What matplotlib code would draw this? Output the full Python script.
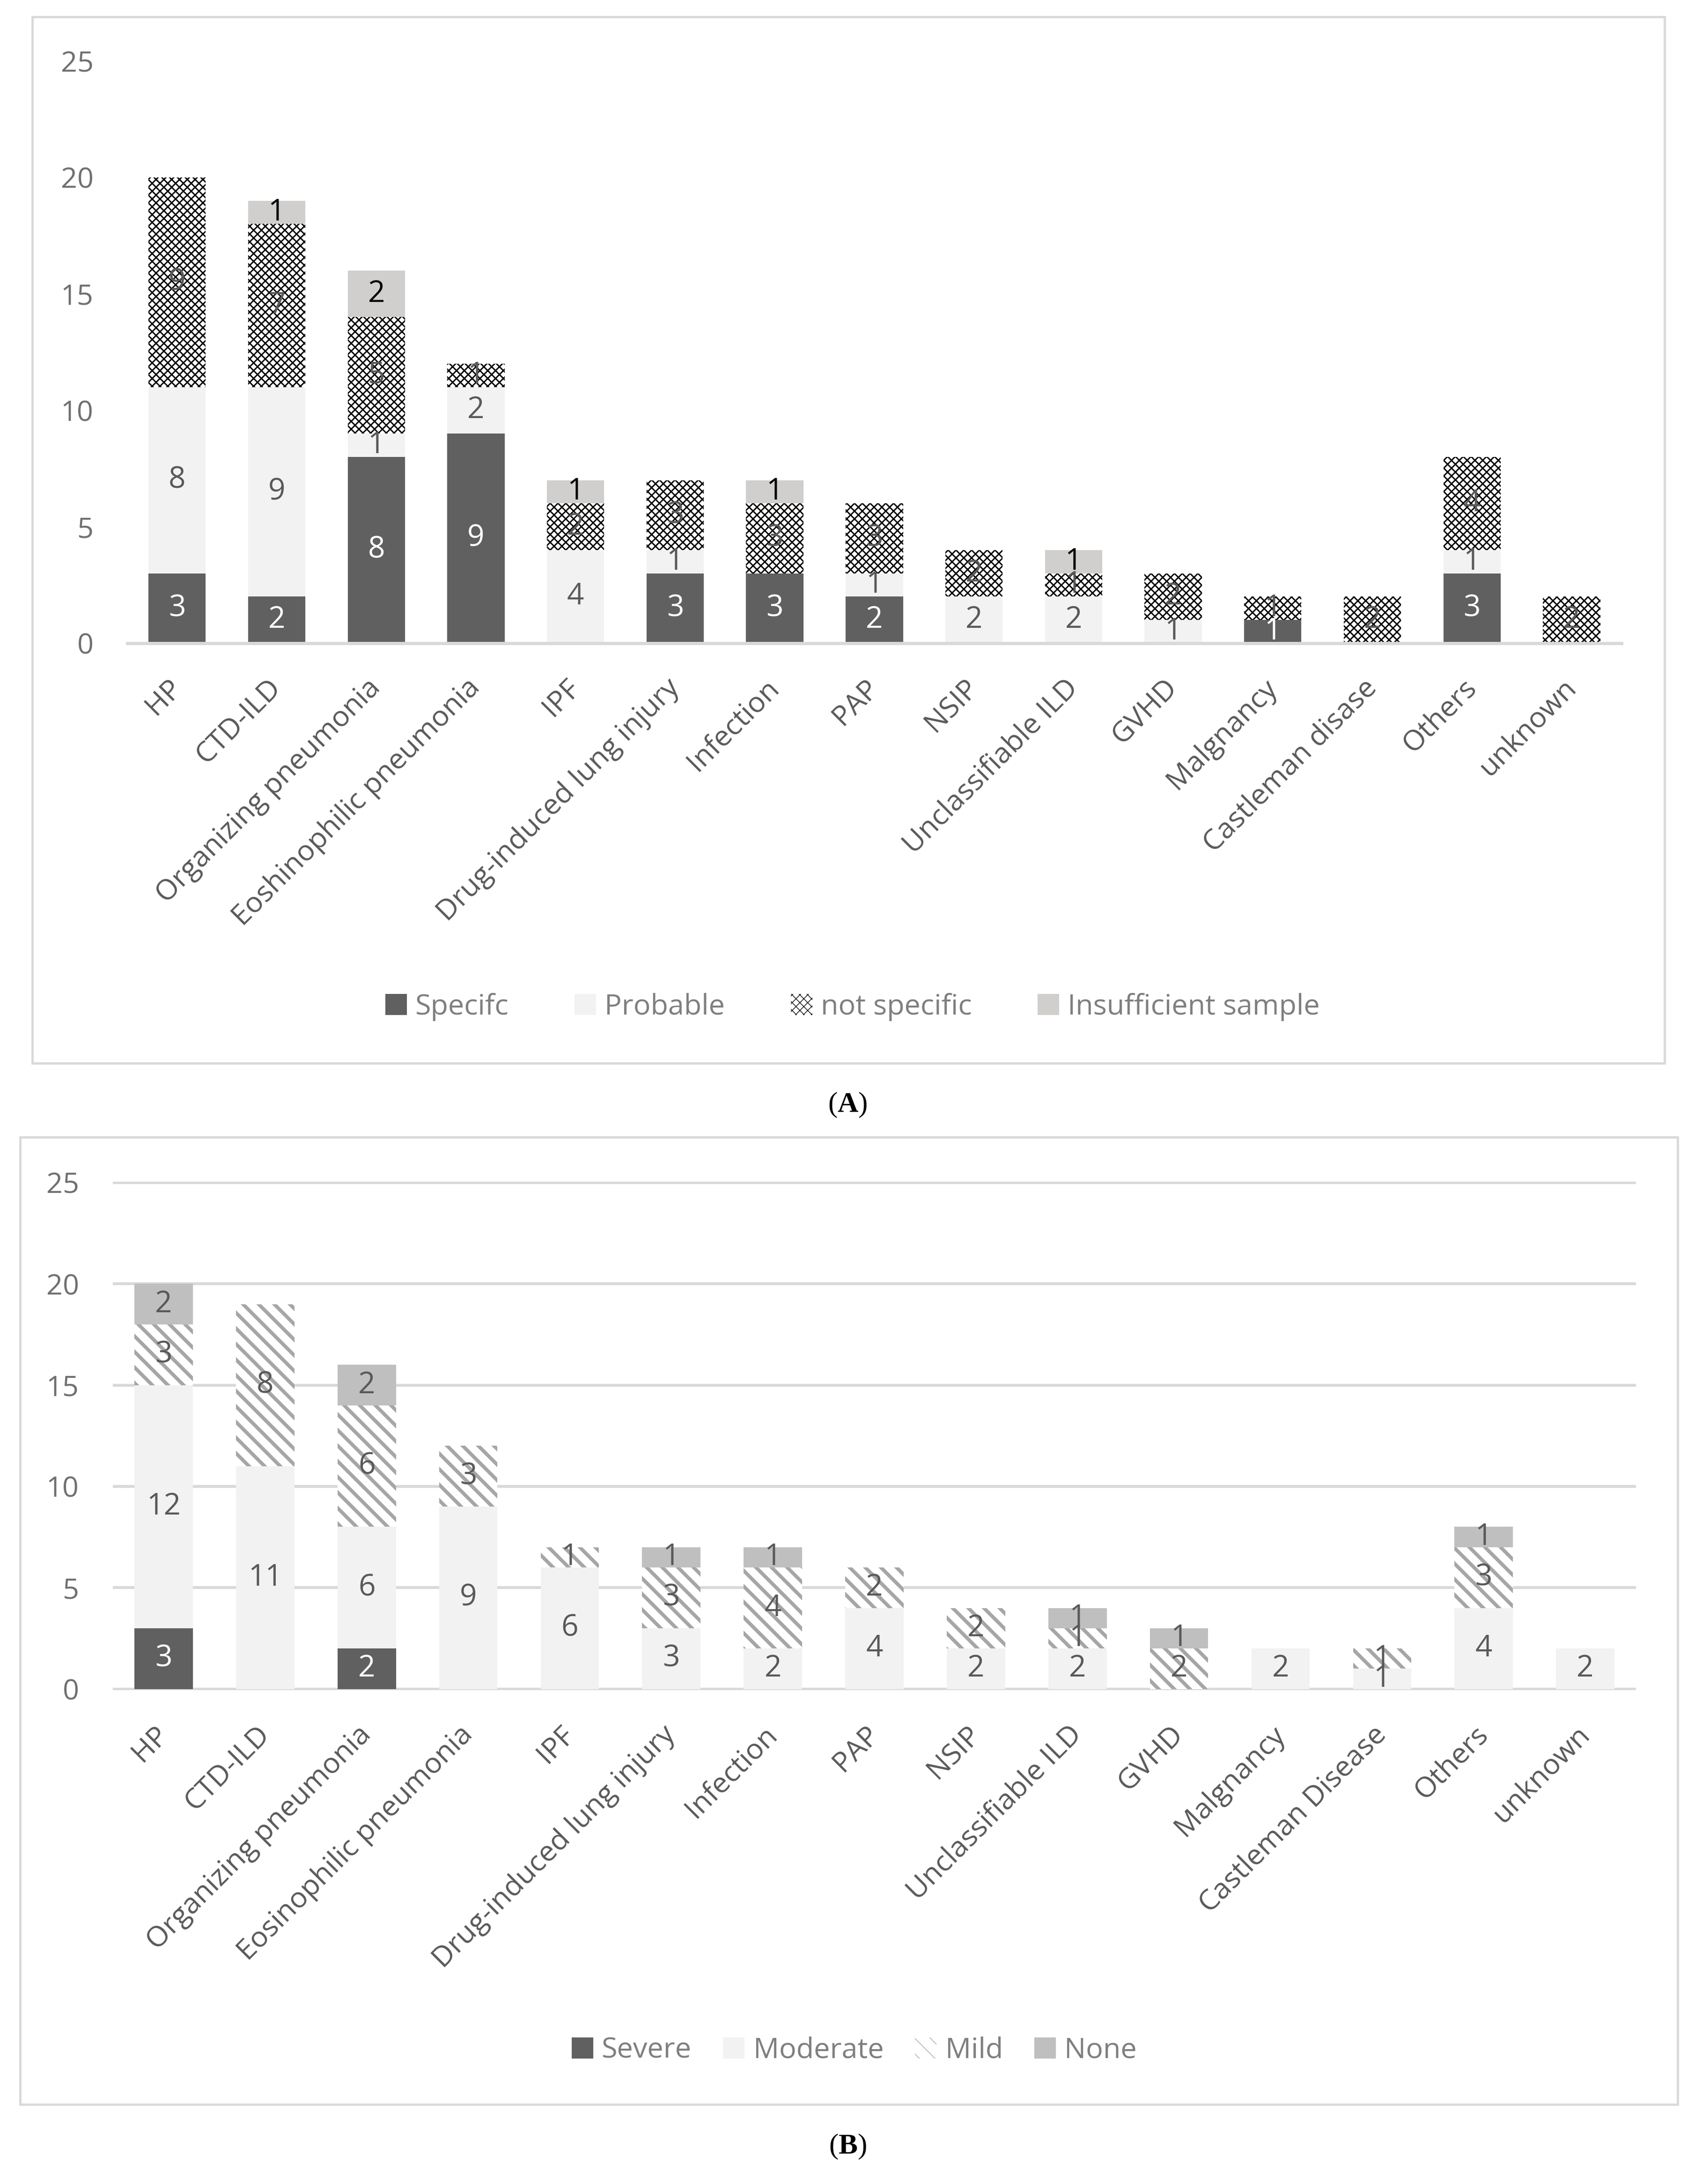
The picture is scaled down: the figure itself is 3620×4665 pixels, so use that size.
import matplotlib
matplotlib.use('Agg')
import matplotlib.pyplot as plt
from matplotlib.patches import Rectangle

plt.rcParams['font.family'] = ['Open Sans', 'DejaVu Sans']
plt.rcParams['mathtext.fontset'] = 'custom'
plt.rcParams['mathtext.rm'] = 'Liberation Serif'
plt.rcParams['mathtext.bf'] = 'Liberation Serif:bold'

# panel A: diagnostic value
categorias_a = ['HP', 'CTD-ILD', 'Organizing pneumonia', 'Eoshinophilic pneumonia', 'IPF',
                'Drug-induced lung injury', 'Infection', 'PAP', 'NSIP', 'Unclassifiable ILD',
                'GVHD', 'Malgnancy', 'Castleman disase', 'Others', 'unknown']
specific = [3, 2, 8, 9, 0, 3, 3, 2, 0, 0, 0, 1, 0, 3, 0]
probable = [8, 9, 1, 2, 4, 1, 0, 1, 2, 2, 1, 0, 0, 1, 0]
not_specific = [9, 7, 5, 1, 2, 3, 3, 3, 2, 1, 2, 1, 2, 4, 2]
insufficient = [0, 1, 2, 0, 1, 0, 1, 0, 0, 1, 0, 0, 0, 0, 0]

# panel B: severity
categorias_b = ['HP', 'CTD-ILD', 'Organizing pneumonia', 'Eosinophilic pneumonia', 'IPF',
                'Drug-induced lung injury', 'Infection', 'PAP', 'NSIP', 'Unclassifiable ILD',
                'GVHD', 'Malgnancy', 'Castleman Disease', 'Others', 'unknown']
severe = [3, 0, 2, 0, 0, 0, 0, 0, 0, 0, 0, 0, 0, 0, 0]
moderate = [12, 11, 6, 9, 6, 3, 2, 4, 2, 2, 0, 2, 1, 4, 2]
mild = [3, 8, 6, 3, 1, 3, 4, 2, 2, 1, 2, 0, 1, 3, 0]
none = [2, 0, 2, 0, 0, 1, 1, 0, 0, 1, 1, 0, 0, 1, 0]

cinza_texto = '#595959'
cinza_linha = '#d9d9d9'
fs = 44

fig = plt.figure(figsize=(36.2, 46.65), dpi=100)

# caixas em volta dos graficos
fig.patches.append(Rectangle((0.0190, 0.5132), 0.9630, 0.4790, transform=fig.transFigure,
                             fill=False, edgecolor=cinza_linha, linewidth=3.5))
fig.patches.append(Rectangle((0.0118, 0.0365), 0.9780, 0.4428, transform=fig.transFigure,
                             fill=False, edgecolor=cinza_linha, linewidth=3.5))


def barra(ax, x, vals, bottom, cor, hatch=None, hcor=None, hlw=1.0, label=None, txt='#595959'):
    with plt.rc_context({'hatch.linewidth': hlw}):
        if hatch:
            c = ax.bar(x, vals, 0.575, bottom=bottom, color='white', edgecolor=hcor,
                       hatch=hatch, linewidth=0, label=label)
        else:
            c = ax.bar(x, vals, 0.575, bottom=bottom, color=cor, linewidth=0, label=label)
    for p in c:
        if hasattr(p, 'set_hatch_linewidth'):
            p.set_hatch_linewidth(hlw)
    ax.bar_label(c, labels=[str(v) if v else '' for v in vals], label_type='center',
                 color=txt, fontsize=fs + 2)
    return c


def eixos(ax, cats):
    ax.set_xlim(-0.5, 14.5)
    ax.set_ylim(0, 25)
    ax.set_yticks([0, 5, 10, 15, 20, 25])
    ax.set_xticks(range(len(cats)))
    ax.set_xticklabels(cats, rotation=45, ha='right', va='center', rotation_mode='anchor')
    ax.tick_params(axis='both', length=0, labelsize=fs, labelcolor=cinza_texto)
    ax.tick_params(axis='y', pad=52, labelcolor='#707070')
    ax.tick_params(axis='x', pad=62)
    for s in ['top', 'right', 'left']:
        ax.spines[s].set_visible(False)
    ax.spines['bottom'].set_color(cinza_linha)
    ax.spines['bottom'].set_linewidth(5)


# grafico A
axA = fig.add_axes([0.0751, 0.7055, 0.8815, 0.2666])
x = list(range(len(categorias_a)))
b1 = [0] * len(x)
b2 = [a + b for a, b in zip(specific, probable)]
b3 = [a + b for a, b in zip(b2, not_specific)]
hA = []
hA.append(barra(axA, x, specific, b1, '#606060', label='Specifc', txt='white'))
hA.append(barra(axA, x, probable, specific, '#f2f2f2', label='Probable'))
hA.append(barra(axA, x, not_specific, b2, None, hatch='xx', hcor='black', hlw=2.1,
                label='not specific'))
hA.append(barra(axA, x, insufficient, b3, '#d0cfcd', label='Insufficient sample', txt='black'))
eixos(axA, categorias_a)

fig.legend(handles=hA, loc='center', bbox_to_anchor=(0.503, 0.539), ncol=4, frameon=False,
           fontsize=fs, labelcolor='#7f7f7f', handlelength=0.75, handleheight=0.75,
           handletextpad=0.3, columnspacing=2.3)
fig.text(0.5, 0.494, r'$\mathrm{(}\mathbf{A}\mathrm{)}$', ha='center', va='center', fontsize=44)

# grafico B
axB = fig.add_axes([0.0666, 0.2262, 0.8986, 0.2328])
c1 = [0] * len(x)
c2 = [a + b for a, b in zip(severe, moderate)]
c3 = [a + b for a, b in zip(c2, mild)]
hB = []
hB.append(barra(axB, x, severe, c1, '#606060', label='Severe', txt='white'))
hB.append(barra(axB, x, moderate, severe, '#f2f2f2', label='Moderate'))
hB.append(barra(axB, x, mild, c2, None, hatch='\\', hcor='#a6a6a6', hlw=5.5, label='Mild'))
hB.append(barra(axB, x, none, c3, '#bfbfbf', label='None'))
eixos(axB, categorias_b)
axB.set_ylim(-0.05, 25.05)
axB.set_axisbelow(True)
axB.yaxis.grid(True, color=cinza_linha, linewidth=4.5)
axB.spines['bottom'].set_visible(False)

fig.legend(handles=hB, loc='center', bbox_to_anchor=(0.504, 0.0611), ncol=4, frameon=False,
           fontsize=fs, labelcolor='#7f7f7f', handlelength=0.75, handleheight=0.75,
           handletextpad=0.3, columnspacing=1.1)
fig.text(0.5, 0.0171, r'$\mathrm{(}\mathbf{B}\mathrm{)}$', ha='center', va='center', fontsize=44)

fig.savefig('out.png', dpi=100)
